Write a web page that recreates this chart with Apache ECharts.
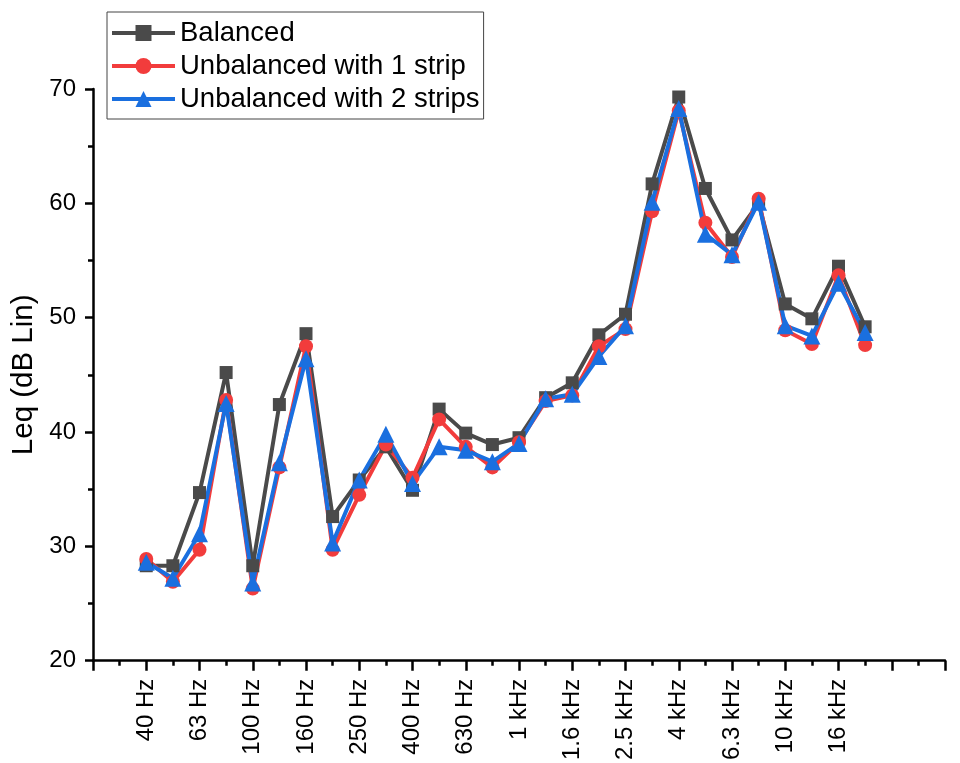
<!DOCTYPE html>
<html>
<head>
<meta charset="utf-8">
<script src="https://cdn.jsdelivr.net/npm/echarts@6/dist/echarts.min.js"></script>
<style>
  html, body { margin: 0; padding: 0; background: #fff; }
  #chart { width: 960px; height: 763px; }
</style>
</head>
<body>
<div id="chart"></div>
<script>
// One-third octave band centre frequencies that carry measurements
const bands = ['40 Hz','50 Hz','63 Hz','80 Hz','100 Hz','125 Hz','160 Hz','200 Hz','250 Hz','315 Hz',
  '400 Hz','500 Hz','630 Hz','800 Hz','1 kHz','1.25 kHz','1.6 kHz','2 kHz','2.5 kHz','3.15 kHz',
  '4 kHz','5 kHz','6.3 kHz','8 kHz','10 kHz','12.5 kHz','16 kHz','20 kHz'];
// Full axis range, padded with empty bands on both sides
const axisBands = ['25 Hz','31.5 Hz'].concat(bands, ['25 kHz','31.5 kHz','40 kHz']);

// Leq in dB (Lin) per band
const balanced = [28.3,28.3,34.7,45.2,28.3,42.4,48.6,32.6,35.8,38.7,
  34.9,42.0,39.9,38.9,39.5,43.0,44.3,48.5,50.3,61.7,
  69.3,61.3,56.8,60.0,51.2,49.9,54.5,49.2];
const oneStrip = [28.9,26.9,29.7,42.8,26.3,36.9,47.5,29.7,34.5,38.9,
  36.0,41.1,38.7,36.9,39.1,42.7,43.2,47.5,49.0,59.3,
  68.1,58.3,55.3,60.4,48.9,47.7,53.7,47.6];
const twoStrips = [28.6,27.2,31.1,42.5,26.8,37.3,46.4,30.3,35.8,39.8,
  35.5,38.7,38.4,37.4,39.0,42.9,43.3,46.6,49.3,60.1,
  68.3,57.3,55.5,60.1,49.3,48.4,53.0,48.7];

const yTicks = { min: 20, max: 70, interval: 10 };
const seriesNames = ['Balanced', 'Unbalanced with 1 strip', 'Unbalanced with 2 strips'];

const FONT = 'Liberation Sans, Arial, sans-serif';
const pairs = vals => bands.map((b, i) => [b, vals[i]]);

const chart = echarts.init(document.getElementById('chart'), null, { renderer: 'canvas' });

const lineSeries = (name, vals, color, symbol, size) => ({
  name: name,
  type: 'line',
  data: pairs(vals),
  symbol: symbol,
  symbolSize: size,
  showAllSymbol: true,
  lineStyle: { color: color, width: 4 },
  itemStyle: { color: color },
  emphasis: { disabled: true },
  animation: false
});

chart.setOption({
  backgroundColor: '#ffffff',
  animation: false,
  grid: { left: 93, right: 15, top: 89, bottom: 98, containLabel: false },
  legend: {
    orient: 'vertical',
    left: 107,
    top: 12,
    padding: [7, 4, 6, 3],
    itemWidth: 63,
    itemHeight: 20,
    itemGap: 5,
    borderColor: '#444444',
    borderWidth: 1,
    lineStyle: { width: 4 },
    textStyle: { fontFamily: FONT, fontSize: 27.5, color: '#000', lineHeight: 25 },
    data: seriesNames
  },
  xAxis: [
    {
      type: 'category',
      data: axisBands,
      boundaryGap: false,
      axisLine: { onZero: false, lineStyle: { color: '#000', width: 2.5 } },
      axisTick: {
        show: true, inside: false, length: 10,
        interval: (i) => i % 2 === 0,
        lineStyle: { color: '#000', width: 2.5 }
      },
      axisLabel: {
        interval: (i) => i % 2 === 0 && i >= 2 && i <= 28,
        rotate: 90,
        margin: 18,
        fontFamily: FONT,
        fontSize: 24,
        color: '#000'
      },
      splitLine: { show: false }
    },
    {
      // short ticks on every band
      type: 'category',
      data: axisBands,
      position: 'bottom',
      boundaryGap: false,
      axisLine: { show: false },
      axisTick: {
        show: true, inside: false, length: 5,
        interval: 0,
        lineStyle: { color: '#000', width: 2.5 }
      },
      axisLabel: { show: false },
      splitLine: { show: false }
    }
  ],
  yAxis: {
    type: 'value',
    min: yTicks.min,
    max: yTicks.max,
    interval: yTicks.interval,
    name: 'Leq (dB Lin)',
    nameLocation: 'middle',
    nameGap: 51,
    nameTextStyle: { fontFamily: FONT, fontSize: 29.5, color: '#000' },
    axisLine: { show: true, lineStyle: { color: '#000', width: 2.5 } },
    axisTick: { show: true, inside: false, length: 8, lineStyle: { color: '#000', width: 2.5 } },
    minorTick: { show: true, splitNumber: 2, length: 5, lineStyle: { color: '#000', width: 2.5 } },
    axisLabel: { margin: 17, fontFamily: FONT, fontSize: 24, color: '#000' },
    splitLine: { show: false }
  },
  series: [
    lineSeries(seriesNames[0], balanced, '#4a4a4a', 'rect', 13),
    lineSeries(seriesNames[1], oneStrip, '#f23c3c', 'circle', 14),
    lineSeries(seriesNames[2], twoStrips, '#1a6fdf', 'triangle', 17)
  ]
});
</script>
</body>
</html>
